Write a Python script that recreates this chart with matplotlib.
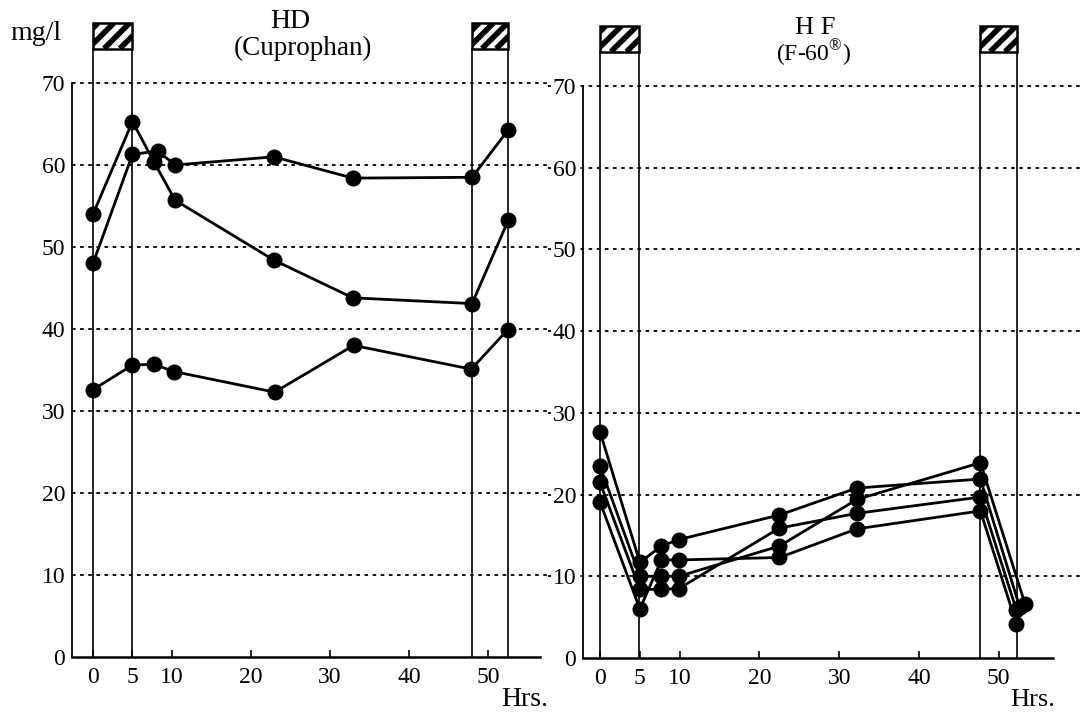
import numpy as np
import matplotlib
matplotlib.use("Agg")
import matplotlib.pyplot as plt
from matplotlib.patches import Rectangle

plt.rcParams['font.family'] = ['Liberation Serif', 'DejaVu Serif']
plt.rcParams['mathtext.fontset'] = 'custom'
plt.rcParams['mathtext.rm'] = 'Liberation Serif'

# HD (Cuprophan) - three patients
hd_x_a = [0, 5, 7.7, 10.4, 22.9, 32.9, 48, 52.6]
hd_y_a = [54.0, 65.3, 60.4, 55.7, 48.4, 43.8, 43.1, 53.3]
hd_x_b = [0, 5, 8.2, 10.4, 22.9, 32.9, 48, 52.6]
hd_y_b = [48.0, 61.3, 61.7, 60.0, 61.0, 58.4, 58.5, 64.3]
hd_x_c = [0, 5, 7.7, 10.3, 23, 33, 47.9, 52.5]
hd_y_c = [32.6, 35.6, 35.7, 34.8, 32.3, 38.0, 35.1, 39.9]

# HF (F-60) - four patients
hf_x_1 = [0, 5, 7.7, 9.9, 22.5, 32.2, 47.7, 52.6]
hf_y_1 = [27.7, 11.7, 13.7, 14.5, 17.5, 20.8, 21.9, 6.3]
hf_x_2 = [0, 5, 7.7, 9.9, 22.5, 32.2, 47.7, 52.2]
hf_y_2 = [19.1, 6.0, 12.0, 12.0, 12.3, 15.8, 18.0, 4.2]
hf_x_3 = [0, 5, 7.7, 9.9, 22.5, 32.2, 47.7, 53.3]
hf_y_3 = [23.5, 10.0, 10.0, 10.0, 13.7, 19.4, 23.9, 6.6]
hf_x_4 = [0, 5, 7.7, 9.9, 22.5, 32.2, 47.7, 52.2]
hf_y_4 = [21.5, 8.4, 8.4, 8.5, 15.9, 17.7, 19.7, 5.9]

# treatment sessions (start, end) in hours
hd_sessions = [(0, 5), (48, 52.5)]
hf_sessions = [(0, 4.9), (47.6, 52.3)]

y_ticks = [0, 10, 20, 30, 40, 50, 60, 70]
x_ticks = [0, 5, 10, 20, 30, 40, 50]

fig = plt.figure(figsize=(10.8, 7.15), dpi=100)
ax1 = fig.add_axes([72/1080, 58/715, 468/1080, 574/715])
ax2 = fig.add_axes([583/1080, 57/715, 470/1080, 572/715])


def style_axes(ax, xlim, grid_from, grid_to):
    ax.set_xlim(*xlim)
    ax.set_ylim(0, 70)
    for s in ['top', 'right']:
        ax.spines[s].set_visible(False)
    ax.spines['left'].set_bounds(0, 70)
    ax.spines['left'].set_linewidth(1.3)
    ax.spines['bottom'].set_linewidth(1.8)
    ax.set_yticks(y_ticks)
    ax.set_xticks(x_ticks)
    ax.tick_params(axis='y', length=0, pad=5, labelsize=17)
    ax.tick_params(axis='x', direction='in', length=5, width=1.2, pad=7, labelsize=17)
    for t in ax.get_yticklabels():
        t.set_bbox(dict(facecolor='white', edgecolor='none', pad=1))
    for yv in y_ticks[1:]:
        ax.plot([grid_from, grid_to], [yv, yv], transform=ax.get_yaxis_transform(),
                color='black', lw=1.3, ls=(0, (2, 2.5)), clip_on=False, zorder=0)


def draw_sessions(ax, sessions, box_lo, box_hi):
    for x0, x1 in sessions:
        ax.plot([x0, x0], [0, box_lo], color='black', lw=1.2, clip_on=False)
        ax.plot([x1, x1], [0, box_lo], color='black', lw=1.2, clip_on=False)
        rect = Rectangle((x0, box_lo), x1 - x0, box_hi - box_lo, facecolor='white',
                         edgecolor='black', lw=1.8, clip_on=False, zorder=4)
        ax.add_patch(rect)
        # diagonal stripes inside the box
        h = box_hi - box_lo
        for k in range(-1, 4):
            xs = x0 + (x1 - x0) * (k * 0.4 - 0.12)
            line, = ax.plot([xs, xs + h * 1.04], [box_lo, box_hi], color='black',
                            lw=4.0, solid_capstyle='butt', zorder=5, clip_on=False)
            line.set_clip_path(rect)
            line.set_clip_on(True)


style_axes(ax1, (-2.66, 56.6), 0, 1.02)
style_axes(ax2, (-2.13, 56.8), -0.075, 1.06)
draw_sessions(ax1, hd_sessions, 74.2, 77.3)
draw_sessions(ax2, hf_sessions, 74.2, 77.4)

line_kw = dict(color='black', lw=2.0, marker='o', markersize=10.5, clip_on=False, zorder=3)
ax1.plot(hd_x_a, hd_y_a, **line_kw)
ax1.plot(hd_x_b, hd_y_b, **line_kw)
ax1.plot(hd_x_c, hd_y_c, **line_kw)

ax2.plot(hf_x_1, hf_y_1, **line_kw)
ax2.plot(hf_x_2, hf_y_2, **line_kw)
ax2.plot(hf_x_3, hf_y_3, **line_kw)
ax2.plot(hf_x_4, hf_y_4, **line_kw)

fig.text(10/1080, 1 - 33/715, 'mg/l', fontsize=20, ha='left', va='center')
fig.text(290/1080, 1 - 22/715, 'HD', fontsize=20, ha='center', va='center')
fig.text(303/1080, 1 - 48/715, '(Cuprophan)', fontsize=19.5, ha='center', va='center')
fig.text(815/1080, 1 - 28/715, 'H F', fontsize=19, ha='center', va='center')
fig.text(813/1080, 1 - 53/715, '(F-60$^{\\mathregular{®}}$)', fontsize=17, ha='center', va='center')
fig.text(525/1080, 1 - 700/715, 'Hrs.', fontsize=20, ha='center', va='center')
fig.text(1033/1080, 1 - 700/715, 'Hrs.', fontsize=19, ha='center', va='center')

fig.savefig('out.png', dpi=100)
